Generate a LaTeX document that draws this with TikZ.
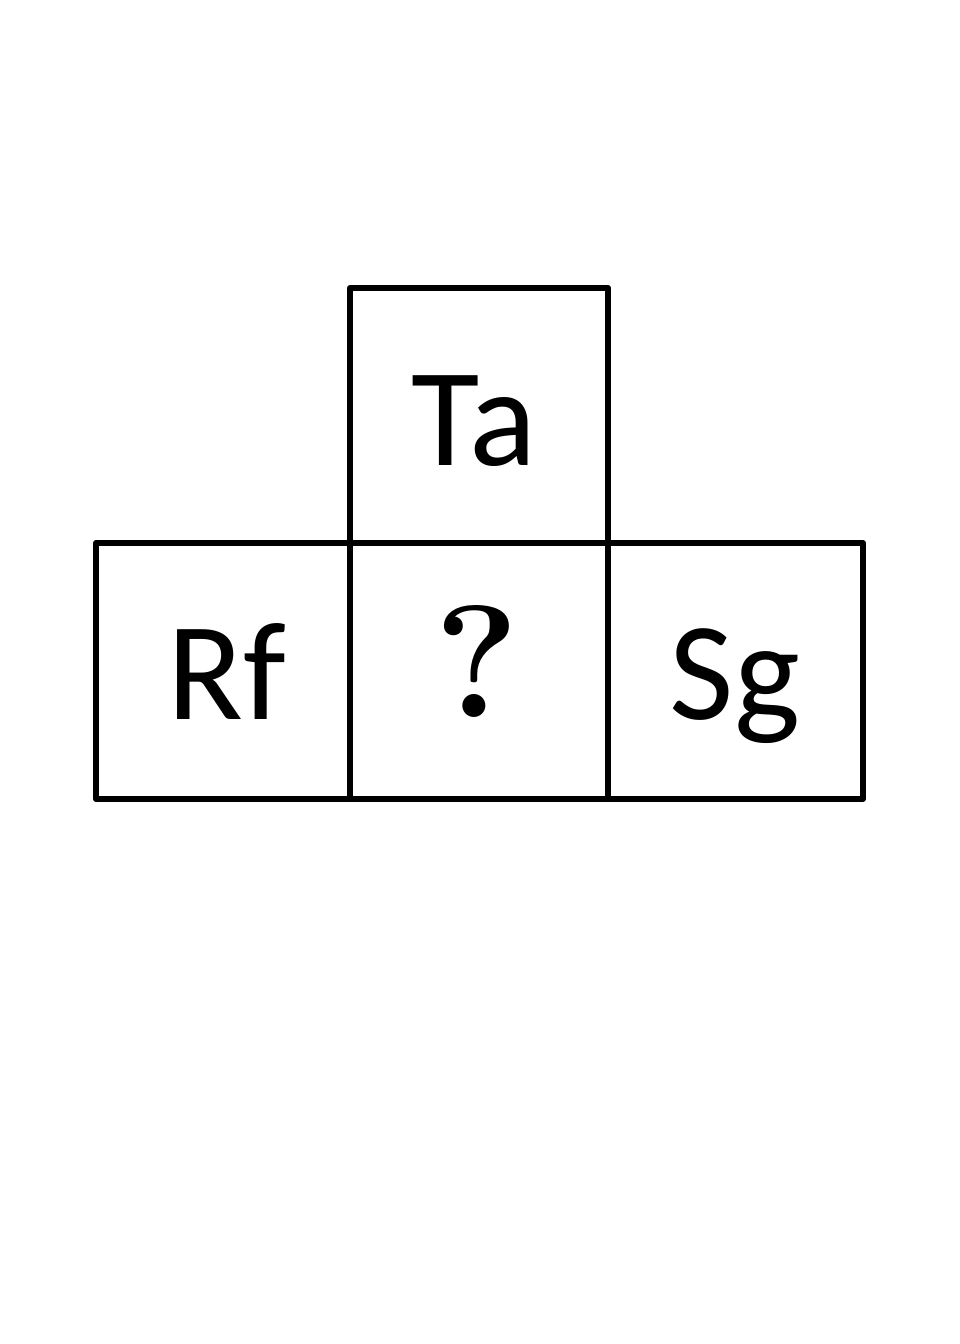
\documentclass[tikz,border=0pt]{standalone}
\usepackage{fontspec}
\setmainfont{Carlito}
\newfontfamily\lmfont{Latin Modern Roman}
\begin{document}
\begin{tikzpicture}[x=1pt,y=-1pt,
  cell/.style={draw=black,line width=6pt,line join=round},
  lbl/.style={font=\fontsize{140}{140}\selectfont,inner sep=0pt,anchor=base}]
\useasboundingbox (0,0) rectangle (960,1344);
\draw[cell] (350,288) rectangle (608,543);
\draw[cell] (96,543) rectangle (350,799);
\draw[cell] (350,543) rectangle (608,799);
\draw[cell] (608,543) rectangle (863,799);
\node[lbl] (ta) at (474,465) {Ta};
\node[lbl] (rf) at (227,719) {Rf};
\node[lbl,font=\lmfont\bfseries\fontsize{160}{160}\selectfont] (q) at (477,717) {?};
\node[lbl] (sg) at (735,719) {Sg};
\end{tikzpicture}
\end{document}
